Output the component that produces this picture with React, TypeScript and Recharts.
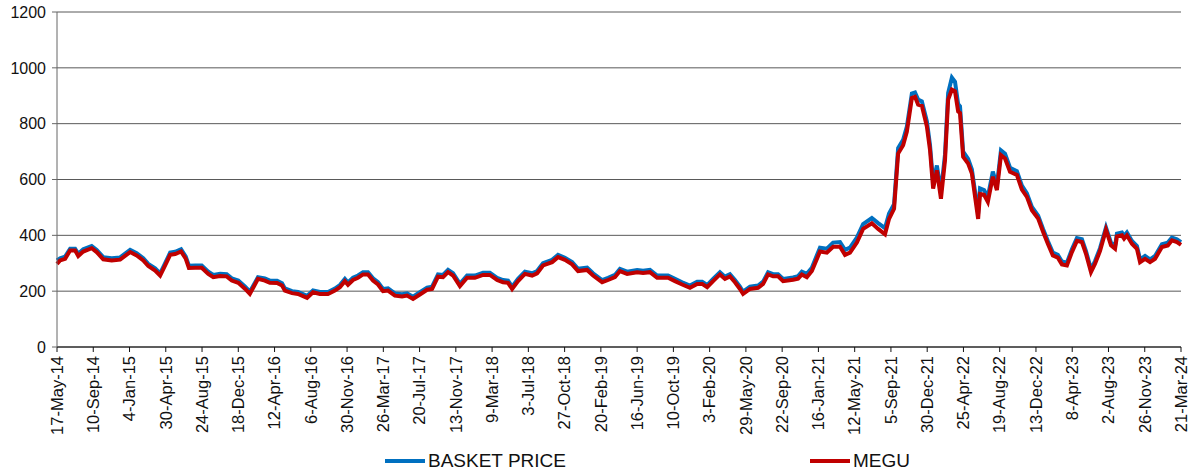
import { LineChart, Line, XAxis, YAxis, CartesianGrid } from 'recharts';

// days since 17-May-14
const days = [
  0, 10, 26, 42, 58, 68, 84, 111, 127, 148,
  175, 202, 234, 255, 276, 292, 314, 330, 346, 362,
  378, 397, 412, 422, 442, 463, 484, 500, 522, 543,
  559, 580, 602, 617, 643, 665, 681, 704, 720, 729,
  752, 771, 800, 819, 841, 867, 889, 905, 921, 931,
  947, 963, 979, 995, 1011, 1027, 1043, 1059, 1081, 1104,
  1120, 1139, 1161, 1184, 1200, 1219, 1235, 1251, 1267, 1289,
  1312, 1337, 1363, 1385, 1408, 1427, 1443, 1456, 1475, 1497,
  1520, 1536, 1555, 1584, 1603, 1625, 1648, 1667, 1696, 1715,
  1744, 1763, 1785, 1801, 1824, 1856, 1875, 1897, 1920, 1955,
  1977, 2000, 2025, 2048, 2064, 2080, 2099, 2121, 2137, 2153,
  2169, 2185, 2195, 2217, 2243, 2259, 2275, 2291, 2307, 2323,
  2355, 2371, 2383, 2399, 2415, 2441, 2463, 2483, 2505, 2521,
  2537, 2559, 2579, 2607, 2627, 2649, 2662, 2678, 2691, 2707,
  2719, 2735, 2745, 2755, 2767, 2783, 2793, 2803, 2815, 2828,
  2841, 2851, 2863, 2873, 2883, 2889, 2899, 2915, 2927, 2947,
  2953, 2966, 2978, 2994, 3007, 3020, 3033, 3049, 3071, 3087,
  3103, 3119, 3139, 3155, 3170, 3186, 3202, 3215, 3231, 3247,
  3263, 3279, 3292, 3308, 3321, 3337, 3356, 3372, 3385, 3391,
  3407, 3414, 3423, 3439, 3455, 3465, 3481, 3497, 3513, 3535,
  3554, 3567, 3583, 3596,
];

const basket = [
  310, 318, 324, 352, 352, 334, 350, 362, 348, 322,
  318, 321, 348, 336, 318, 298, 282, 264, 300, 338,
  341, 350, 324, 291, 292, 292, 270, 258, 262, 261,
  246, 238, 216, 198, 250, 246, 238, 237, 228, 210,
  200, 197, 183, 203, 197, 197, 209, 222, 244, 231,
  248, 256, 268, 268, 246, 232, 208, 210, 192, 189,
  192, 180, 196, 213, 216, 260, 258, 276, 264, 226,
  256, 256, 266, 266, 248, 240, 238, 216, 244, 270,
  264, 272, 300, 312, 330, 320, 304, 280, 284, 264,
  240, 248, 258, 280, 270, 276, 273, 276, 256, 256,
  244, 232, 220, 234, 234, 222, 244, 268, 252, 261,
  240, 216, 198, 216, 220, 234, 268, 261, 261, 244,
  249, 254, 270, 262, 284, 356, 352, 374, 376, 348,
  356, 392, 440, 462, 444, 426, 478, 512, 712, 742,
  790, 908, 912, 886, 880, 808, 724, 590, 650, 556,
  690, 910, 965, 950, 870, 862, 700, 674, 636, 478,
  568, 562, 538, 628, 578, 704, 692, 642, 630, 578,
  550, 502, 470, 422, 380, 338, 330, 306, 302, 350,
  390, 386, 344, 278, 308, 354, 428, 374, 362, 406,
  410, 398, 410, 380, 362, 314, 326, 314, 326, 368,
  374, 392, 386, 376,
];

const megu = [
  298, 310, 316, 346, 346, 326, 342, 354, 340, 314,
  310, 313, 340, 328, 310, 290, 274, 256, 292, 330,
  333, 342, 316, 283, 284, 284, 262, 250, 254, 253,
  238, 230, 208, 190, 244, 238, 230, 229, 220, 202,
  193, 190, 176, 196, 190, 190, 202, 214, 236, 223,
  240, 248, 260, 260, 238, 224, 200, 202, 184, 181,
  184, 172, 188, 205, 208, 252, 250, 268, 256, 218,
  248, 248, 258, 258, 240, 232, 230, 208, 236, 262,
  256, 264, 292, 304, 322, 312, 296, 272, 276, 256,
  232, 240, 250, 272, 262, 268, 265, 268, 248, 248,
  236, 224, 212, 226, 226, 214, 236, 260, 244, 253,
  232, 208, 190, 208, 212, 226, 260, 253, 253, 236,
  241, 245, 260, 250, 272, 342, 338, 359, 359, 330,
  338, 374, 423, 443, 423, 404, 459, 495, 693, 723,
  772, 892, 896, 868, 864, 790, 706, 567, 633, 531,
  669, 886, 922, 916, 844, 838, 681, 657, 621, 459,
  548, 545, 520, 610, 562, 687, 675, 628, 616, 564,
  538, 490, 460, 412, 370, 328, 320, 296, 292, 340,
  380, 376, 334, 268, 298, 344, 420, 364, 352, 396,
  400, 388, 400, 370, 352, 304, 316, 304, 316, 358,
  364, 382, 376, 366,
];

const xLabels = [
  '17-May-14', '10-Sep-14', '4-Jan-15', '30-Apr-15', '24-Aug-15', '18-Dec-15',
  '12-Apr-16', '6-Aug-16', '30-Nov-16', '26-Mar-17', '20-Jul-17', '13-Nov-17',
  '9-Mar-18', '3-Jul-18', '27-Oct-18', '20-Feb-19', '16-Jun-19', '10-Oct-19',
  '3-Feb-20', '29-May-20', '22-Sep-20', '16-Jan-21', '12-May-21', '5-Sep-21',
  '30-Dec-21', '25-Apr-22', '19-Aug-22', '13-Dec-22', '8-Apr-23', '2-Aug-23',
  '26-Nov-23', '21-Mar-24',
];
const TICK_STEP = 116;
const yTicks = [0, 200, 400, 600, 800, 1000, 1200];

const data = days.map((d, i) => ({ day: d, basket: basket[i], megu: megu[i] }));
const xTicks = xLabels.map((_, i) => i * TICK_STEP);

const FONT = '"Liberation Sans", Arial, sans-serif';

function DateTick({ x, y, payload }: any) {
  const label = xLabels[Math.round(payload.value / TICK_STEP)];
  const ty = y + 4;
  return (
    <text
      x={x}
      y={ty}
      dy="0.35em"
      transform={`rotate(-90, ${x}, ${ty})`}
      textAnchor="end"
      fontSize={16.5}
      fontFamily={FONT}
      fill="#111"
    >
      {label}
    </text>
  );
}

export default function App() {
  return (
    <div style={{ position: 'absolute', left: 0, top: 0, width: 1189, height: 475, background: '#fff', overflow: 'hidden' }}>
      <LineChart width={1189} height={475} data={data} margin={{ top: 12, right: 8, bottom: 38, left: 0 }}>
        <CartesianGrid vertical={false} stroke="#595959" strokeWidth={1} />
        <XAxis
          dataKey="day"
          type="number"
          domain={[0, 3596]}
          ticks={xTicks}
          interval={0}
          height={90}
          tickSize={5}
          tickMargin={0}
          stroke="#111"
          tick={<DateTick />}
        />
        <YAxis
          type="number"
          domain={[0, 1200]}
          ticks={yTicks}
          width={57}
          tickSize={5}
          tickMargin={6}
          stroke="#666"
          tick={{ fontSize: 16, fontFamily: FONT, fill: '#111' }}
        />
        <Line type="linear" dataKey="basket" stroke="#0070C0" strokeWidth={4} dot={false} isAnimationActive={false} />
        <Line type="linear" dataKey="megu" stroke="#C00000" strokeWidth={4} dot={false} isAnimationActive={false} />
      </LineChart>
      <div style={{ position: 'absolute', top: 450, left: 385, display: 'flex', alignItems: 'center', fontFamily: FONT, fontSize: 19, color: '#111' }}>
        <span style={{ display: 'inline-block', width: 40, height: 4, background: '#0070C0', marginRight: 3 }} />
        <span>BASKET PRICE</span>
      </div>
      <div style={{ position: 'absolute', top: 450, left: 810, display: 'flex', alignItems: 'center', fontFamily: FONT, fontSize: 19, color: '#111' }}>
        <span style={{ display: 'inline-block', width: 40, height: 4, background: '#C00000', marginRight: 3 }} />
        <span>MEGU</span>
      </div>
    </div>
  );
}
